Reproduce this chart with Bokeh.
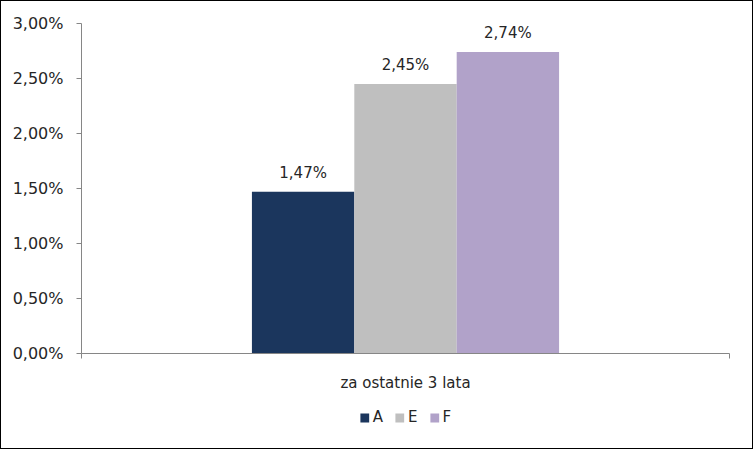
from bokeh.plotting import figure
from bokeh.layouts import column
from bokeh.models import (ColumnDataSource, Range1d, FixedTicker,
                          CustomJSTickFormatter, Legend, LegendItem)
from bokeh.core.properties import value
from bokeh.embed import file_html
from bokeh.resources import INLINE

categories = ["za ostatnie 3 lata"]
series = ["A", "E", "F"]
values = [0.0147, 0.0245, 0.0274]
value_labels = ["1,47%", "2,45%", "2,74%"]
colors = ["#1B365D", "#BFBFBF", "#B1A2C9"]
y_ticks = [0.0, 0.005, 0.01, 0.015, 0.02, 0.025, 0.03]

FONT = "DejaVu Sans"
TXT = "#262626"
AX = "#868686"

bar_w = 0.158
n = len(series)
xs = [0.5 + (i - (n - 1) / 2) * bar_w for i in range(n)]

p = figure(width=751, height=400, output_backend="svg", toolbar_location=None,
           x_range=Range1d(0, 1), y_range=Range1d(0, 0.03))
p.min_border_left = 80
p.min_border_right = 23
p.min_border_top = 22
p.min_border_bottom = 48
p.outline_line_color = None
p.xgrid.visible = False
p.ygrid.visible = False

for i, s in enumerate(series):
    src = ColumnDataSource(dict(x=[xs[i]], top=[values[i]], lab=[value_labels[i]]))
    p.vbar(x="x", top="top", width=bar_w, bottom=0, source=src,
           fill_color=colors[i], line_color=None)
    p.text(x="x", y="top", text="lab", source=src, text_align="center",
           text_baseline="bottom", y_offset=-10, text_font=value(FONT),
           text_font_size="15px", text_color=TXT)

# y axis
ya = p.yaxis[0]
ya.ticker = FixedTicker(ticks=y_ticks)
ya.formatter = CustomJSTickFormatter(code="return (tick*100).toFixed(2).replace('.', ',') + '%';")
ya.axis_line_color = AX
ya.major_tick_line_color = AX
ya.major_tick_out = 5
ya.major_tick_in = 0
ya.minor_tick_line_color = None
ya.major_label_text_font = FONT
ya.major_label_text_font_size = "16px"
ya.major_label_text_color = TXT
ya.major_label_standoff = 13

# x axis
xa = p.xaxis[0]
xa.ticker = FixedTicker(ticks=[0, 1])
xa.major_label_overrides = {0: " ", 1: " "}
xa.major_label_text_font_size = "4px"
xa.axis_line_color = AX
xa.major_tick_line_color = AX
xa.major_tick_out = 5
xa.major_tick_in = 0
xa.minor_tick_line_color = None
xa.axis_label = categories[0]
xa.axis_label_text_font = FONT
xa.axis_label_text_font_size = "15px"
xa.axis_label_text_font_style = "normal"
xa.axis_label_text_color = TXT
xa.axis_label_standoff = 2

# legend strip
pl = figure(width=751, height=47, output_backend="svg", toolbar_location=None,
            x_axis_location=None, y_axis_location=None,
            x_range=Range1d(0, 1), y_range=Range1d(0, 1))
pl.min_border = 0
pl.outline_line_color = None
pl.xgrid.visible = False
pl.ygrid.visible = False
leg_r = [pl.vbar(x=[-10], top=[-10], width=0.1, fill_color=c, line_color=None) for c in colors]

legend = Legend(items=[LegendItem(label=s, renderers=[r]) for s, r in zip(series, leg_r)],
                orientation="horizontal", location="top_center")
legend.glyph_width = 11
legend.glyph_height = 11
legend.label_width = 5
legend.label_text_font = FONT
legend.label_text_font_size = "15px"
legend.label_text_color = TXT
legend.label_standoff = 3
legend.spacing = 11
legend.border_line_color = None
legend.background_fill_alpha = 0
legend.padding = 0
legend.margin = 7
pl.add_layout(legend)

layout = column(p, pl, spacing=0, styles={"border": "1px solid #000000"})
open("out.html", "w").write(file_html(layout, INLINE))
